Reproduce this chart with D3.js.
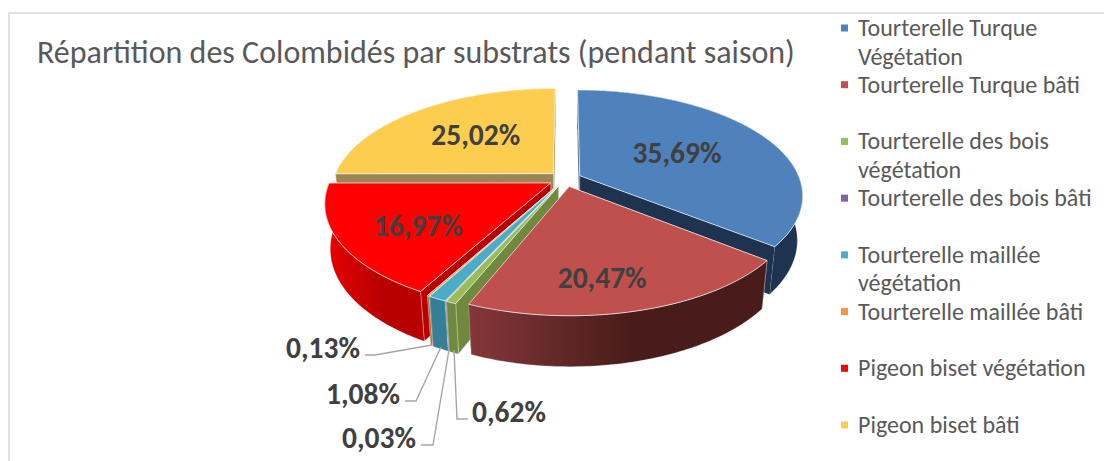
<!DOCTYPE html>
<html lang="fr"><head><meta charset="utf-8">
<script src="https://cdn.jsdelivr.net/npm/d3@7"></script>
<style>html,body{margin:0;padding:0;background:#fff;overflow:hidden}svg{display:block}</style>
</head><body><svg id="c" width="1104" height="461"></svg>
<script>
const chartTitle = "Répartition des Colombidés par substrats (pendant saison)";
const categories = ["Tourterelle Turque Végétation","Tourterelle Turque bâti","Tourterelle des bois végétation","Tourterelle des bois bâti","Tourterelle maillée végétation","Tourterelle maillée bâti","Pigeon biset végétation","Pigeon biset bâti"];
const values = [35.69,20.47,0.62,0.03,1.08,0.13,16.97,25.02];
const topColors = ["#4f81bd","#c0504d","#9bbb59","#8064a2","#4bacc6","#f79646","#ff0000","#fdcd4f"];
const wallLight = ["#1d3350","#84363a","#6f8a3f","#5a4673","#357f96","#b06a30","#e40000","#9b8552"];
const wallDark  = ["#1d3350","#481c1a","#6f8a3f","#5a4673","#357f96","#b06a30","#b80000","#9b8552"];
// label placement: fraction of radius along the slice's bisector + pixel nudge
const labelLayout = [[.5,3,-2],[.78,-19,-1],null,null,null,null,[.62,-6,8],[.62,10,2]];
// outside labels: text centre and leader elbow
const leaderLayout = {2:[509,412,468,457,419],3:[379,438,421,433,445],4:[363,394,405,416,401],5:[323,348,365,375,355]};
const leaderFoot = {2:[454,350],3:[449,350],4:[441,347],5:[432,345]};

const svg = d3.select("#c");
const FONT = "Carlito, Calibri, Lato, sans-serif";
const R=220, cx=565, cy=179, E=16.5, H=51, sinT=.466, cosT=Math.sqrt(1-sinT*sinT), D=1066;
function proj(a,r,z,ox=0,oy=0){ // a clockwise from 12 o'clock, r in radii, z height below top
  const X=R*r*Math.sin(a)+ox, Y=R*r*Math.cos(a)+oy;
  const yy=Y*sinT - z*cosT, depth=Y*cosT + z*sinT, s=D/(D+depth);
  return [cx+s*X, cy-s*yy];
}
const line=d3.line();
const arcs=d3.pie().sort(null).value(d=>d).startAngle(0).endAngle(2*Math.PI)(values);
const defs=svg.append("defs");

// frame
svg.append("path").attr("d",line([[9,461],[9,13],[1104,13]])).attr("fill","none").attr("stroke","#d9d9d9").attr("stroke-width",1.5);

const order=d3.range(arcs.length).sort((i,j)=>
  Math.cos((arcs[j].startAngle+arcs[j].endAngle)/2)-Math.cos((arcs[i].startAngle+arcs[i].endAngle)/2)
  <0?-1:1);
const EDGE="rgba(255,255,255,.65)";
order.forEach(i=>{
  const d=arcs[i], m=(d.startAngle+d.endAngle)/2;
  const ox=E*Math.sin(m), oy=E*Math.cos(m);
  const n=Math.max(4,Math.ceil((d.endAngle-d.startAngle)*60));
  const as=d3.range(n+1).map(k=>d.startAngle+(d.endAngle-d.startAngle)*k/n);
  const topPts=[proj(0,0,0,ox,oy),...as.map(a=>proj(a,1,0,ox,oy))];
  const gid="w"+i;
  const xs=as.map(a=>proj(a,1,H,ox,oy)[0]);
  const g=defs.append("linearGradient").attr("id",gid).attr("gradientUnits","userSpaceOnUse")
    .attr("x1",d3.min(xs)).attr("x2",d3.min(xs)+(d3.max(xs)-d3.min(xs))*.55).attr("y1",0).attr("y2",0);
  g.append("stop").attr("offset",0).attr("stop-color",wallLight[i]);
  g.append("stop").attr("offset",1).attr("stop-color",wallDark[i]);
  const wall=(a)=>[proj(0,0,0,ox,oy),proj(a,1,0,ox,oy),proj(a,1,H,ox,oy),proj(0,0,H,ox,oy)];
  const gs=svg.append("g");
  const wallFill = i===6 ? "#b80000" : i===1 ? "#84363a" : wallLight[i];
  const outer=[...as.map(a=>proj(a,1,0,ox,oy)),...as.slice().reverse().map(a=>proj(a,1,H,ox,oy))];
  const drawOuter=()=>gs.append("path").attr("d",line(outer)+"Z").attr("fill",`url(#${gid})`).attr("stroke",EDGE).attr("stroke-width",.4);
  if(Math.cos(m)>0) drawOuter();
  gs.append("path").attr("d",line(wall(d.endAngle))+"Z").attr("fill",wallFill);
  gs.append("path").attr("d",line(wall(d.startAngle))+"Z").attr("fill",wallFill).attr("stroke",EDGE).attr("stroke-width",.6);
  if(Math.cos(m)<=0) drawOuter();
  gs.append("path").attr("d",line(topPts)+"Z").attr("fill",topColors[i]).attr("stroke",EDGE).attr("stroke-width",1);
});

const fmt=v=>v.toFixed(2).replace(".",",")+"%";
const LABEL=29.5;
// inside labels
arcs.forEach((d,i)=>{
  const l=labelLayout[i]; if(!l) return;
  const m=(d.startAngle+d.endAngle)/2;
  const p=proj(m,l[0],0,E*Math.sin(m),E*Math.cos(m));
  svg.append("text").attr("x",p[0]+l[1]).attr("y",p[1]+l[2]).attr("dy",".35em").attr("text-anchor","middle")
    .attr("font-family",FONT).attr("font-weight",700).attr("font-size",LABEL).attr("fill","#404040").text(fmt(values[i]));
});
// leaders + outside labels
Object.keys(leaderLayout).forEach(k=>{
  const [tx,ty,x0,x1,y1]=leaderLayout[k], f=leaderFoot[k];
  svg.append("path").attr("d",line([[x0,y1],[x1,y1],f])).attr("fill","none").attr("stroke","#a6a6a6").attr("stroke-width",1.4);
  svg.append("text").attr("x",tx).attr("y",ty).attr("dy",".35em").attr("text-anchor","middle")
    .attr("font-family",FONT).attr("font-weight",700).attr("font-size",LABEL).attr("fill","#404040").text(fmt(values[+k]));
});
// title
svg.append("text").attr("x",37).attr("y",63).attr("font-family",FONT).attr("font-size",32).attr("fill","#595959").text(chartTitle);
// legend
const ly=d3.scalePoint().domain(categories).range([28,425]);
const WRAP=240;
categories.forEach((c,i)=>{
  const y=ly(c);
  svg.append("rect").attr("x",841).attr("y",y-3.5).attr("width",7).attr("height",7).attr("fill",topColors[i]);
  const t=svg.append("text").attr("font-family",FONT).attr("font-size",24).attr("fill","#595959");
  let cur=[],ln=0;
  const add=s=>t.append("tspan").attr("x",858).attr("y",y+8+ln*28.5).text(s);
  let ts=add("");
  c.split(" ").forEach(w=>{
    ts.text([...cur,w].join(" "));
    if(ts.node().getComputedTextLength()>WRAP && cur.length){
      ts.text(cur.join(" ")); cur=[w]; ln++; ts=add(w);
    } else cur.push(w);
  });
});
</script></body></html>
